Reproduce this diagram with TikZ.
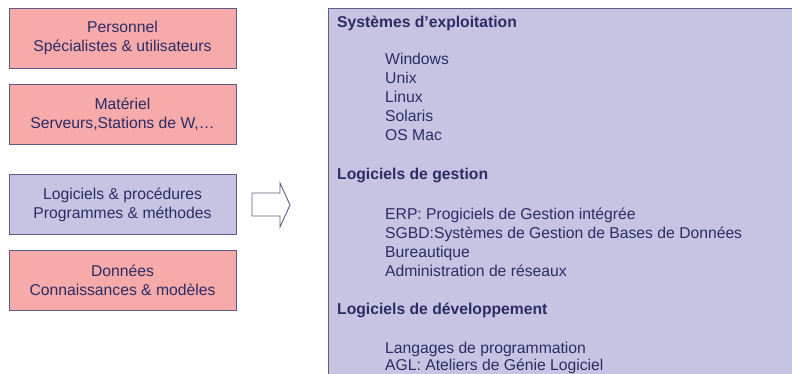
\documentclass[tikz,border=0pt]{standalone}
\usepackage{fontspec}
\setmainfont{Liberation Sans}
\usepackage{tikz}
\usetikzlibrary{calc}
\definecolor{box_pink}{RGB}{246, 170, 170}
\definecolor{box_lav}{RGB}{198, 196, 226}
\definecolor{box_line}{RGB}{92, 92, 135}
\definecolor{box_text}{RGB}{44, 44, 100}
\tikzstyle{pk}=[rectangle,fill=box_pink,draw=box_line,line width=0.9pt,
  minimum width=227pt,minimum height=60pt,inner sep=0pt,align=center,
  text=box_text,font=\fontsize{15.7}{19}\selectfont]
\tikzstyle{lv}=[pk,fill=box_lav]
\tikzstyle{panel}=[rectangle,fill=box_lav,draw=box_line,line width=0.9pt,
  minimum width=520pt,minimum height=420pt,inner sep=0pt]
\tikzstyle{hd}=[anchor=base west,inner sep=0pt,text=box_text,
  font=\fontsize{15.7}{19}\selectfont\bfseries]
\tikzstyle{it}=[anchor=base west,inner sep=0pt,text=box_text,
  font=\fontsize{15.7}{19}\selectfont]
\tikzstyle{none}=[]

\begin{document}
\begin{tikzpicture}[x=1pt,y=-1pt]
		\useasboundingbox (0, 0) rectangle (792, 374);
		\clip (0, 0) rectangle (792, 374);
		\node [style=pk] (0) at (122.5, 38) {Personnel\\Spécialistes \& utilisateurs};
		\node [style=pk] (1) at (122.5, 114) {Matériel\\Serveurs,Stations de W,…};
		\node [style=lv] (2) at (122.5, 204.5) {Logiciels \& procédures\\Programmes \& méthodes};
		\node [style=pk] (3) at (122.5, 280) {Données\\Connaissances \& modèles};
		\node [style=panel, anchor=north west] (4) at (328, 8) {};
		\draw [fill=white, draw=box_line, line width=0.9pt] (252, 193) -- (280, 193) -- (280, 183)
			-- (290, 205) -- (280, 227) -- (280, 216) -- (252, 216) -- cycle;
		\node [style=hd] (5) at (337, 28) {Systèmes d’exploitation};
		\node [style=it] (6) at (385, 65) {Windows};
		\node [style=it] (7) at (385, 84) {Unix};
		\node [style=it] (8) at (385, 103) {Linux};
		\node [style=it] (9) at (385, 122) {Solaris};
		\node [style=it] (10) at (385, 141) {OS Mac};
		\node [style=hd] (11) at (337, 180) {Logiciels de gestion};
		\node [style=it] (12) at (385, 219) {ERP: Progiciels de Gestion intégrée};
		\node [style=it] (13) at (385, 238) {SGBD:Systèmes de Gestion de Bases de Données};
		\node [style=it] (14) at (385, 257) {Bureautique};
		\node [style=it] (15) at (385, 276) {Administration de réseaux};
		\node [style=hd] (16) at (337, 314) {Logiciels de développement};
		\node [style=it] (17) at (385, 353) {Langages de programmation};
		\node [style=it] (18) at (385, 370) {AGL: Ateliers de Génie Logiciel};
\end{tikzpicture}
\end{document}
